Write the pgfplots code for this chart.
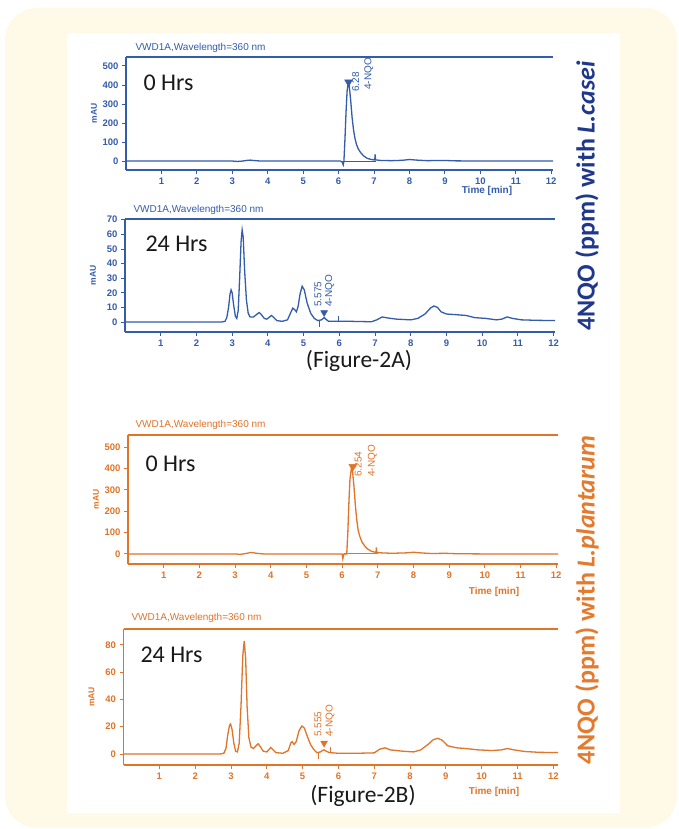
\documentclass[border=0pt]{standalone}
\usepackage{pgfplots}
\pgfplotsset{compat=1.18}
\usepackage{fontspec}
\setmainfont{Liberation Sans}
\newfontfamily\carlito{Carlito}
\definecolor{cream}{RGB}{255,250,232}
\definecolor{bl}{RGB}{52,92,172}
\definecolor{navy}{RGB}{32,56,140}
\definecolor{org}{RGB}{224,116,40}
\definecolor{orgt}{RGB}{228,122,46}
\definecolor{txt}{RGB}{25,25,25}
\pgfplotsset{
  chrom/.style={scale only axis, xmin=0, axis x line=bottom, axis y line=left,
    axis line style={-, line width=1.4pt}, tick align=outside, major tick length=4pt,
    xtick={1,...,12}, minor tick num=0,
    tick label style={font=\fontsize{9.5}{9.5}\selectfont\bfseries},
    /pgf/number format/assume math mode=true, scaled y ticks=false,
    anchor=south west},
  colB/.style={axis line style={bl}, tick style={bl, line width=0.9pt}, tick label style={text=bl}},
  colO/.style={axis line style={org}, tick style={org, line width=0.9pt}, tick label style={text=org}},
}
\begin{document}
\begin{tikzpicture}[x=1pt,y=1pt]
\useasboundingbox (0pt,0pt) rectangle (679pt,829pt);
\fill[cream, rounded corners=32pt] (5pt,1pt) rectangle (677pt,821pt);
\fill[white] (67pt,16pt) rectangle (620pt,796pt);

% ---------- Panel 1 : L.casei 0 Hrs ----------
\begin{axis}[chrom, colB, name=p1, at={(126pt,659pt)}, width=427pt, height=113pt,
  xmax=12.05, ymin=-47, ymax=547, ytick={0,100,...,500}]
\addplot[bl, line width=1.3pt] coordinates {
(0,0) (3.0,0) (3.15,-2) (3.25,-1) (3.4,3) (3.5,5) (3.6,3) (3.8,0) (6.05,0) (6.1,-5) (6.13,-20) (6.15,0)
(6.18,120) (6.21,260) (6.24,370) (6.27,405) (6.30,395) (6.34,320) (6.38,230) (6.42,165) (6.46,120)
(6.5,90) (6.55,65) (6.62,45) (6.7,28) (6.8,15) (6.9,9) (7.0,6) (7.02,6) (7.03,35) (7.045,6)
(7.2,3) (7.5,2) (7.8,4) (8.0,8) (8.2,5) (8.5,2) (8.8,3) (9.0,3) (9.3,1) (10,0) (12.05,0)};
\addplot[bl, line width=1pt] coordinates {(6.1,0) (7.05,0)};
\addplot[only marks, bl, mark=triangle*, mark size=4.5pt, mark options={rotate=180}] coordinates {(6.28,415)};
\node[rotate=90, anchor=west, text=bl, font=\fontsize{10}{10}\selectfont, inner sep=0pt] at (axis cs:6.48,363) {6.28};
\node[rotate=90, anchor=west, text=bl, font=\fontsize{10}{10}\selectfont, inner sep=0pt] at (axis cs:6.85,374) {4-NQO};
\end{axis}
\draw[bl, line width=2pt] (p1.north west) -- (p1.north east);

% ---------- Panel 2 : L.casei 24 Hrs ----------
\begin{axis}[chrom, colB, name=p2, at={(125pt,497pt)}, width=430pt, height=113pt,
  xmax=12.04, ymin=-6.8, ymax=70.5, ytick={0,10,...,70}]
\addplot[bl, line width=1.3pt] coordinates {
(0,0) (2.7,0) (2.8,0.5) (2.85,3) (2.9,10) (2.94,19) (2.97,22) (3.0,20) (3.04,12) (3.09,4) (3.13,2.5)
(3.17,8) (3.21,30) (3.25,55) (3.28,63) (3.31,58) (3.35,35) (3.4,15) (3.45,6) (3.5,3.5) (3.6,3.5)
(3.7,5.5) (3.76,6.5) (3.82,5) (3.9,2.5) (3.97,2) (4.05,3.5) (4.1,4.5) (4.15,3.5) (4.25,1) (4.4,0.5)
(4.55,1.5) (4.65,7) (4.7,9.5) (4.75,8.5) (4.8,7) (4.85,11) (4.9,19) (4.96,24.5) (5.02,22) (5.1,13)
(5.2,6) (5.3,2.5) (5.4,1) (5.5,1.5) (5.55,2.5) (5.58,3) (5.62,2) (5.7,0.5) (5.9,0.5) (6.3,0.5)
(6.9,0.2) (7.05,1.5) (7.2,3.5) (7.35,2.8) (7.6,2) (8.0,1.5) (8.2,2.5) (8.4,5.5) (8.55,9.5) (8.65,11)
(8.75,10) (8.85,7) (9.0,5.5) (9.3,5) (9.55,4.5) (9.8,3) (10.1,2.5) (10.4,1.5) (10.55,2) (10.7,3.5)
(10.85,2.5) (11.1,1.5) (11.5,1.2) (12.04,1)};
\addplot[bl, line width=1pt] coordinates {(5.45,1) (5.45,-3.5)};
\addplot[bl, line width=1pt] coordinates {(5.99,0.5) (5.99,4)};
\addplot[only marks, bl, mark=triangle*, mark size=4pt, mark options={rotate=180}] coordinates {(5.575,6.5)};
\node[rotate=90, anchor=west, text=bl, font=\fontsize{10}{10}\selectfont, inner sep=0pt] at (axis cs:5.40,10.3) {5.575};
\node[rotate=90, anchor=west, text=bl, font=\fontsize{10}{10}\selectfont, inner sep=0pt] at (axis cs:5.73,10.3) {4-NQO};
\end{axis}
\draw[bl, line width=2pt] (p2.north west) -- (p2.north east);

% ---------- Panel 3 : L.plantarum 0 Hrs ----------
\begin{axis}[chrom, colO, name=p3, at={(128pt,265pt)}, width=430pt, height=129pt,
  xmax=12.05, ymin=-47, ymax=556, ytick={0,100,...,500}]
\addplot[org, line width=1.3pt] coordinates {
(0,0) (3.0,0) (3.15,-2) (3.3,2) (3.45,7) (3.6,3) (3.8,0) (6.0,0) (6.02,-22) (6.05,0) (6.13,0)
(6.16,100) (6.19,240) (6.22,350) (6.26,400) (6.29,390) (6.33,320) (6.37,230) (6.41,160) (6.45,110)
(6.5,80) (6.56,55) (6.63,38) (6.7,25) (6.8,14) (6.9,9) (6.95,7) (6.96,30) (6.97,7) (7.1,5) (7.4,3)
(7.8,5) (8.0,8) (8.2,5) (8.5,2) (8.9,3) (9.2,1) (10,0) (12.05,0)};
\addplot[org, line width=1pt] coordinates {(6.05,0) (7.0,0)};
\addplot[only marks, org, mark=triangle*, mark size=4.5pt, mark options={rotate=180}] coordinates {(6.3,408)};
\node[rotate=90, anchor=west, text=org, font=\fontsize{10}{10}\selectfont, inner sep=0pt] at (axis cs:6.45,360) {6.254};
\node[rotate=90, anchor=west, text=org, font=\fontsize{10}{10}\selectfont, inner sep=0pt] at (axis cs:6.85,360) {4-NQO};
\end{axis}
\draw[org, line width=2pt] (p3.north west) -- (p3.north east);

% ---------- Panel 4 : L.plantarum 24 Hrs ----------
\begin{axis}[chrom, colO, name=p4, at={(123.5pt,64pt)}, width=434.5pt, height=136pt,
  xmax=12.13, ymin=-8.1, ymax=91.7, ytick={0,20,...,80}]
\addplot[org, line width=1.3pt] coordinates {
(0,0) (2.7,0) (2.8,0.5) (2.86,4) (2.91,14) (2.96,21) (2.99,22) (3.03,18) (3.08,8) (3.13,2) (3.18,1.5)
(3.23,8) (3.28,35) (3.33,72) (3.37,83) (3.41,70) (3.45,35) (3.5,12) (3.56,5) (3.63,4) (3.7,6)
(3.76,7.5) (3.83,5) (3.9,2) (4.0,1.5) (4.07,3.5) (4.11,4.8) (4.16,3.5) (4.25,1) (4.45,0.5) (4.6,2.5)
(4.67,8) (4.71,9) (4.76,7) (4.82,9) (4.9,17) (4.98,20.5) (5.05,19) (5.13,13) (5.22,7) (5.32,3)
(5.4,1) (5.5,1.5) (5.55,2.5) (5.6,3) (5.66,2) (5.75,1) (6.0,0.5) (6.5,0.5) (7.0,0.8) (7.15,3.5)
(7.3,4.5) (7.45,3) (7.8,2) (8.1,1.5) (8.3,3) (8.5,7) (8.65,10.5) (8.78,11.5) (8.9,10) (9.05,6)
(9.3,4.5) (9.55,4) (9.9,3) (10.3,2.5) (10.55,3) (10.72,4) (10.9,3) (11.2,1.8) (11.6,1.2) (12.13,1)};
\addplot[org, line width=1pt] coordinates {(5.43,1) (5.43,-4)};
\addplot[org, line width=1pt] coordinates {(5.77,1) (5.77,5)};
\addplot[only marks, org, mark=triangle*, mark size=4pt, mark options={rotate=180}] coordinates {(5.6,8)};
\node[rotate=90, anchor=west, text=org, font=\fontsize{10}{10}\selectfont, inner sep=0pt] at (axis cs:5.43,12.5) {5.555};
\node[rotate=90, anchor=west, text=org, font=\fontsize{10}{10}\selectfont, inner sep=0pt] at (axis cs:5.77,12.5) {4-NQO};
\end{axis}
\draw[org, line width=2pt] (p4.north west) -- (p4.north east);

% ---------- texts ----------
\foreach \p/\c in {p1/bl,p2/bl,p3/org,p4/org}{
  \node[rotate=90, text=\c, font=\fontsize{8.5}{8.5}\selectfont\bfseries] at ([xshift=-32pt]\p.west) {mAU};
}
\node[anchor=west, text=bl, font=\fontsize{10}{10}\selectfont] at (132pt,781pt) {VWD1A,Wavelength=360 nm};
\node[anchor=west, text=bl, font=\fontsize{10}{10}\selectfont] at (130pt,619pt) {VWD1A,Wavelength=360 nm};
\node[anchor=west, text=org, font=\fontsize{10}{10}\selectfont] at (132pt,404pt) {VWD1A,Wavelength=360 nm};
\node[anchor=west, text=org, font=\fontsize{10}{10}\selectfont] at (128pt,211pt) {VWD1A,Wavelength=360 nm};

\node[text=bl, font=\fontsize{10}{10}\selectfont\bfseries] at (487pt,638pt) {Time [min]};
\node[text=org, font=\fontsize{10}{10}\selectfont\bfseries] at (494pt,237pt) {Time [min]};
\node[text=org, font=\fontsize{10}{10}\selectfont\bfseries] at (494pt,37pt) {Time [min]};

\node[anchor=west, text=txt, font=\carlito\fontsize{24}{24}\selectfont] at (140pt,746pt) {0 Hrs};
\node[anchor=west, text=txt, font=\carlito\fontsize{24}{24}\selectfont] at (142pt,585pt) {24 Hrs};
\node[anchor=west, text=txt, font=\carlito\fontsize{24}{24}\selectfont] at (142pt,365pt) {0 Hrs};
\node[anchor=west, text=txt, font=\carlito\fontsize{24}{24}\selectfont] at (137pt,174pt) {24 Hrs};

\node[text=txt, font=\carlito\fontsize{23.5}{23.5}\selectfont] at (359pt,468pt) {(Figure-2A)};
\node[text=txt, font=\carlito\fontsize{23.5}{23.5}\selectfont] at (363pt,33pt) {(Figure-2B)};

\node[rotate=90, text=navy, font=\carlito\bfseries\fontsize{26}{26}\selectfont] at (587pt,633pt) {4NQO (ppm) with \textit{L.casei}};
\node[rotate=90, text=orgt, font=\carlito\bfseries\fontsize{26}{26}\selectfont] at (587pt,229pt) {4NQO (ppm) with \textit{L.plantarum}};
\end{tikzpicture}
\end{document}
